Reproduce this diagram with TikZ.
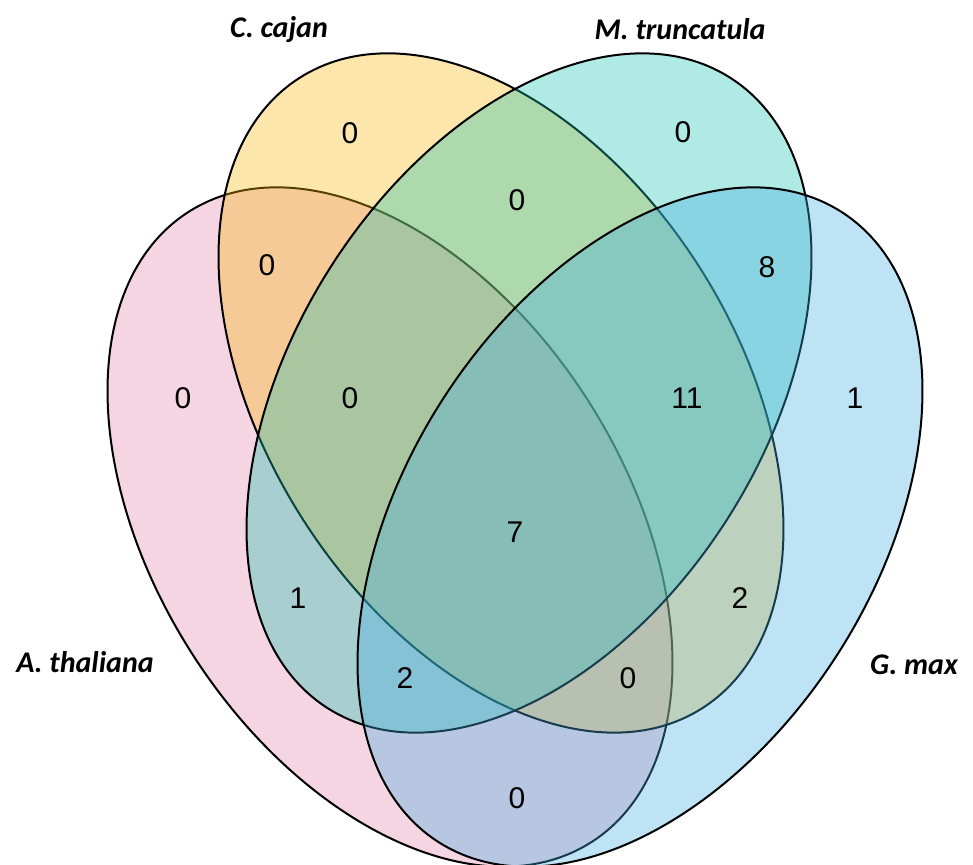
\documentclass[tikz,border=0pt]{standalone}
\usepackage{fontspec}
\setmainfont{Liberation Sans}
\newfontfamily\titlefont{Carlito}
\definecolor{pinkc}{RGB}{226,134,168}
\definecolor{yellowc}{RGB}{249,183,16}
\definecolor{tealc}{RGB}{27,194,177}
\definecolor{bluec}{RGB}{68,174,226}
\tikzset{
  setshape/.style={line width=2pt, draw=black, fill opacity=0.35, draw opacity=1},
  countlabel/.style={font=\fontsize{30}{30}\selectfont, inner sep=0pt},
  setlabel/.style={font=\titlefont\bfseries\itshape\fontsize{30}{30}\selectfont, inner sep=0pt}
}
\begin{document}
\begin{tikzpicture}[x=1pt,y=1pt]
\useasboundingbox (0,0) rectangle (973,864);
% ellipses (pixel coords, y up)
\coordinate (cp) at (390,337);
\coordinate (cy) at (501,471);
\coordinate (ct) at (529,471);
\coordinate (cb) at (640,337);
\path[setshape, fill=pinkc, rotate around={-57.4:(cp)}] (cp) ellipse [x radius=374pt, y radius=235pt];
\path[setshape, fill=yellowc, rotate around={-57.4:(cy)}] (cy) ellipse [x radius=374pt, y radius=235pt];
\path[setshape, fill=tealc, rotate around={57.4:(ct)}] (ct) ellipse [x radius=374pt, y radius=235pt];
\path[setshape, fill=bluec, rotate around={57.4:(cb)}] (cb) ellipse [x radius=374pt, y radius=235pt];
% set labels
\node[setlabel] (lc) at (279,834) {C. cajan};
\node[setlabel] (lm) at (680,835) {M. truncatula};
\node[setlabel] (la) at (85,202) {A. thaliana};
\node[setlabel] (lg) at (914,199) {G. max};
% counts
\node[countlabel] (n1) at (350,731) {0};
\node[countlabel] (n2) at (267,599) {0};
\node[countlabel] (n3) at (183,466) {0};
\node[countlabel] (n4) at (350,466) {0};
\node[countlabel] (n5) at (683,732) {0};
\node[countlabel] (n6) at (517,664) {0};
\node[countlabel] (n7) at (767,597) {8};
\node[countlabel] (n8) at (687,466) {11};
\node[countlabel] (n9) at (855,466) {1};
\node[countlabel] (n10) at (298,266) {1};
\node[countlabel] (n11) at (405,186) {2};
\node[countlabel] (n12) at (515,332) {7};
\node[countlabel] (n13) at (740,266) {2};
\node[countlabel] (n14) at (628,186) {0};
\node[countlabel] (n15) at (517,66) {0};
\end{tikzpicture}
\end{document}
